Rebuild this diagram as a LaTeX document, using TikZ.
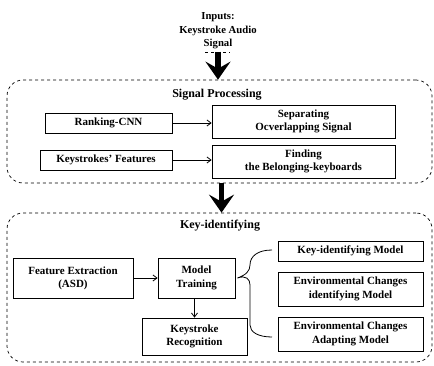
\documentclass[tikz,border=0pt]{standalone}
\usepackage{fontspec}
\setmainfont{Liberation Serif}
\usetikzlibrary{arrows.meta, positioning}

\tikzset{
  box/.style={draw, line width=0.8pt, align=center, inner sep=0pt,
    font=\fontsize{11}{13.3}\selectfont\bfseries},
  area/.style={draw, dashed, line width=0.7pt, rounded corners=16pt, inner sep=0pt},
  title/.style={font=\fontsize{12}{14}\selectfont\bfseries},
  link/.style={line width=0.8pt, -{Straight Barb[length=4pt,width=6pt]}},
  bigarrow/.style={line width=5.5pt, -{Stealth[length=18pt,width=25pt,inset=7pt]}}
}

\begin{document}
\begin{tikzpicture}[x=1pt, y=-1pt]
        \useasboundingbox (0,0) rectangle (434,365);
        % Input text
        \node[align=center, font=\fontsize{10.7}{13.5}\selectfont\bfseries] (inputs) at (218,31)
            {Inputs:\\Keystroke Audio\\Signal};
        \draw[dashed, line width=0.7pt] ([xshift=-13pt]inputs.south) -- ([xshift=12pt]inputs.south);
        % Two dashed areas
        \node[area, minimum width=425pt, minimum height=103pt] (sp) at (219.5,131.5) {};
        \node[area, minimum width=425pt, minimum height=149pt] (ki) at (219.5,287.5) {};
        \node[title] (sptitle) at (217,95) {Signal Processing};
        \node[title] (kititle) at (220,226) {Key-identifying};
        % Signal processing boxes
        \node[box, minimum width=127pt, minimum height=20pt] (rank) at (108.5,123) {Ranking-CNN};
        \node[box, minimum width=183pt, minimum height=33pt] (sep) at (303.5,121.5) {Separating\\Ocverlapping Signal};
        \node[box, minimum width=132pt, minimum height=20pt] (feat) at (106,160) {Keystrokes' Features};
        \node[box, minimum width=183pt, minimum height=33pt] (find) at (303.5,161.5) {Finding\\the Belonging-keyboards};
        % Key-identifying boxes
        \node[box, minimum width=120pt, minimum height=40pt] (fe) at (73,278) {Feature Extraction\\(ASD)};
        \node[box, minimum width=77pt, minimum height=40pt] (mt) at (196.5,278) {Model\\Training};
        \node[box, minimum width=105pt, minimum height=37pt] (kr) at (194.5,336.5) {Keystroke\\Recognition};
        \node[box, minimum width=145pt, minimum height=20pt] (kim) at (350.5,251) {Key-identifying Model};
        \node[box, minimum width=145pt, minimum height=34pt] (eci) at (350.5,289) {Environmental Changes\\identifying Model};
        \node[box, minimum width=145pt, minimum height=34pt] (eca) at (350.5,334) {Environmental Changes\\Adapting Model};
        % Connectors
        \draw[link] (rank) -- (rank -| sep.west);
        \draw[link] (feat) -- (feat -| find.west);
        \draw[link] (fe) -- (mt);
        \draw[link] (mt.south -| kr.north) -- (kr);
        \draw[bigarrow] ([yshift=1pt]inputs.south) -- (inputs.south |- sp.north);
        \draw[bigarrow] ([xshift=2pt]sp.south) -- ([xshift=2pt]ki.north);
        % Brace
        \coordinate (tip) at ([xshift=2pt]mt.east);
        \draw[line width=0.8pt] (272,250) .. controls (258,250) and (250,256) .. (250,265)
            .. controls (250,271) and (246,275) .. (tip)
            .. controls (246,275) and (250,279) .. (250,285) -- (250,325)
            .. controls (250,332) and (258,337) .. (272,337);
\end{tikzpicture}
\end{document}
